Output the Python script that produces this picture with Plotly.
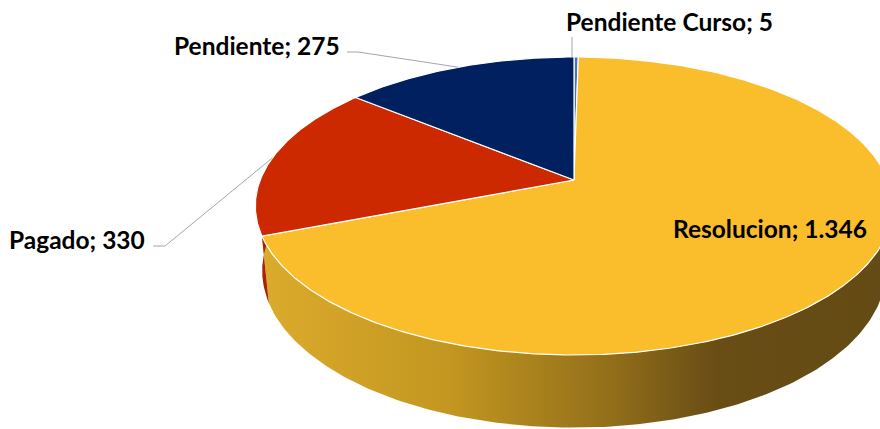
import numpy as np
import plotly.graph_objects as go

# ---- data ----
categories = ["Pendiente Curso", "Resolucion", "Pagado", "Pendiente"]
values = [5, 1346, 330, 275]
value_labels = ["5", "1.346", "330", "275"]
top_colors = ["#4472C4", "#FABD2B", "#CC2900", "#00205F"]
side_colors = ["#3A5FA0", None, "#A82300", "#001A4A"]

# ---- 3D pie projection (layout) ----
CX, CY = 574.0, 180.0
D, R, F = 1.0, 0.1966, 1596.0
SA, CA = 0.4605, 0.8877
H = 0.046


def proj(theta_deg, yw=0.0):
    t = np.radians(theta_deg)
    X = R * np.sin(t)
    Z = R * np.cos(t)
    yc = yw * CA + Z * SA
    d = D + Z * CA - yw * SA
    return CX + F * X / d, CY - F * yc / d


total = sum(values)
bounds = np.concatenate([[0], np.cumsum(values)]) / total * 360.0

fig = go.Figure()

# side walls (front half only: 90..270 deg)
for i, cat in enumerate(categories):
    a0, a1 = max(bounds[i], 90.0), min(bounds[i + 1], 270.0)
    if a1 <= a0:
        continue
    th = np.linspace(a0, a1, 200)
    xt, yt = proj(th, 0.0)
    xb, yb = proj(th[::-1], -H)
    xs = np.concatenate([xt, xb, xt[:1]])
    ys = np.concatenate([yt, yb, yt[:1]])
    if side_colors[i] is None:
        fig.add_trace(go.Scatter(
            x=xs, y=ys, mode="lines", fill="toself", line=dict(width=0),
            fillgradient=dict(type="horizontal", colorscale=[
                [0.0, "#DCAB2C"], [0.3, "#C29620"], [0.55, "#936F1A"],
                [0.72, "#684D15"], [1.0, "#644A14"]]),
            hoverinfo="skip", showlegend=False))
    else:
        fig.add_trace(go.Scatter(
            x=xs, y=ys, mode="lines", fill="toself", line=dict(width=0),
            fillcolor=side_colors[i], hoverinfo="skip", showlegend=False))

# top faces
for i, cat in enumerate(categories):
    th = np.linspace(bounds[i], bounds[i + 1], max(4, int((bounds[i + 1] - bounds[i]) * 2)))
    xr, yr = proj(th, 0.0)
    xs = np.concatenate([[CX], xr, [CX]])
    ys = np.concatenate([[CY], yr, [CY]])
    fig.add_trace(go.Scatter(
        x=xs, y=ys, mode="lines", fill="toself", fillcolor=top_colors[i],
        line=dict(color="white", width=1.2), name=cat,
        hovertemplate=f"{cat}: {value_labels[i]}<extra></extra>", showlegend=False))

# leader lines to slice midpoints
mids = (bounds[:-1] + bounds[1:]) / 2
label_pos = {  # text anchor positions (layout)
    "Pendiente Curso": (669, 21, "center"),
    "Pendiente": (342, 45, "right"),
    "Pagado": (147, 239, "right"),
}
elbows = {
    "Pendiente Curso": [(572, 37)],
    "Pendiente": [(347, 52), (358, 52)],
    "Pagado": [(153, 246), (165, 246)],
}
FONT = dict(family="Lato", size=24.5, color="#000000")
for i, cat in enumerate(categories):
    if cat in elbows:
        mx, my = proj(mids[i], 0.0)
        pts = elbows[cat]
        lx = [p[0] for p in pts] + [float(mx) if cat != "Pendiente Curso" else pts[0][0]]
        ly = [p[1] for p in pts] + [float(my)]
        fig.add_trace(go.Scatter(x=lx, y=ly, mode="lines",
                                 line=dict(color="#A6A6A6", width=1),
                                 hoverinfo="skip", showlegend=False))
        x, y, anc = label_pos[cat]
        fig.add_annotation(x=x, y=y, xref="x", yref="y", xanchor=anc, yanchor="middle",
                           text=f"<b>{cat}; {value_labels[i]}</b>", showarrow=False,
                           font=FONT)
    elif cat == "Resolucion":
        fig.add_annotation(x=770, y=228, xref="x", yref="y", xanchor="center", yanchor="middle",
                           text=f"<b>{cat}; {value_labels[i]}</b>", showarrow=False,
                           font=FONT)

fig.update_layout(
    width=880, height=429,
    margin=dict(l=0, r=0, t=0, b=0),
    paper_bgcolor="white", plot_bgcolor="white",
    xaxis=dict(range=[0, 880], visible=False, fixedrange=True),
    yaxis=dict(range=[429, 0], visible=False, fixedrange=True),
    showlegend=False,
)

fig.write_html("out.html", config={"displayModeBar": False},
               post_script="document.body.style.margin='0';document.body.style.overflow='hidden';")
